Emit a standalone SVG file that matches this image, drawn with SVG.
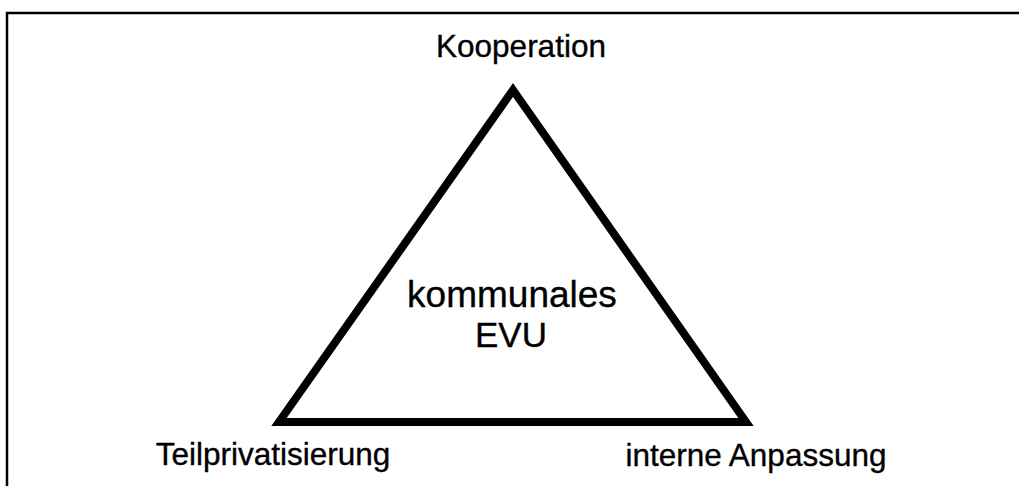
<svg xmlns="http://www.w3.org/2000/svg" width="1019" height="486" viewBox="0 0 1019 486">
<style>
text{font-family:"Liberation Sans",Arial,sans-serif;fill:#000;stroke:#000;stroke-width:0.35;text-anchor:middle}
.lbl{font-size:31.5px}
.ctr{font-size:37px}
</style>
<rect x="0" y="0" width="1019" height="486" fill="#fff"/>
<g id="frame">
<path d="M7,486 V13 H1019" fill="none" stroke="#000" stroke-width="2.5"/>
</g>
<g id="connectors">
<polygon id="triangle" points="513,90 746,422 279,422" fill="none" stroke="#000" stroke-width="8" stroke-linejoin="miter" stroke-miterlimit="10"/>
</g>
<g id="node-center">
<text class="ctr" x="512" y="307">kommunales</text>
<text class="ctr" x="511" y="347" style="font-size:35px">EVU</text>
</g>
<g id="node-top">
<text class="lbl" x="521" y="57">Kooperation</text>
</g>
<g id="node-left">
<text class="lbl" x="273" y="465">Teilprivatisierung</text>
</g>
<g id="node-right">
<text class="lbl" x="756" y="466">interne Anpassung</text>
</g>
</svg>
